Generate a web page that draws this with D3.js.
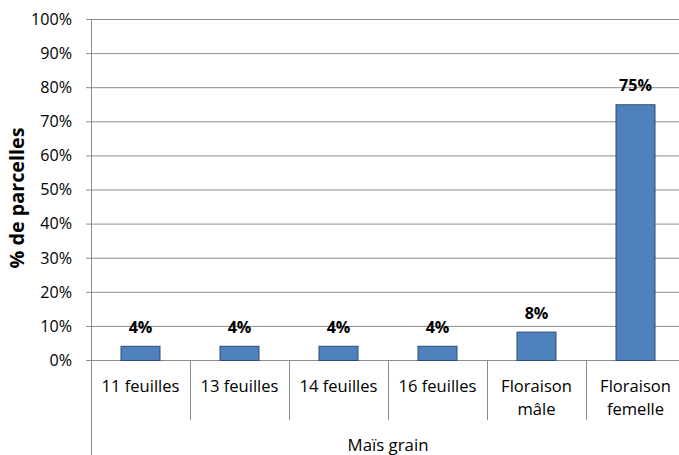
<!DOCTYPE html>
<html><head><meta charset="utf-8">
<script src="https://cdn.jsdelivr.net/npm/d3@7"></script>
<style>body{margin:0;background:#fff}svg{display:block}text{font-family:"Open Sans","Liberation Sans",Arial,sans-serif}</style>
</head><body><svg id="c" width="679" height="455"></svg>
<script>
const categories = [["11 feuilles"],["13 feuilles"],["14 feuilles"],["16 feuilles"],["Floraison","mâle"],["Floraison","femelle"]];
const values = [4.17, 4.17, 4.17, 4.17, 8.33, 75];
const valueLabels = ["4%","4%","4%","4%","8%","75%"];
const yTicks = [0,10,20,30,40,50,60,70,80,90,100];
const groupLabel = "Maïs grain";
const yTitle = "% de parcelles";

const svg = d3.select("#c");
const x0 = 91, x1 = 685, yTop = 19, yBot = 360;
const x = d3.scaleBand().domain(d3.range(categories.length)).range([x0, x1]).paddingInner(0).paddingOuter(0);
const y = d3.scaleLinear().domain([0,100]).range([yBot, yTop]);
const grid = "#8c8c8c";

// font size fitting to match reference text widths
function fit(sample, weight, target){
  const t = svg.append("text").attr("font-size",100).attr("font-weight",weight).text(sample);
  const w = t.node().getComputedTextLength(); t.remove();
  return 100*target/w;
}
const fsTick = fit("100%", "normal", 41);
const fsCat = fit("11 feuilles", "normal", 78);
const fsGroup = fit(groupLabel, "normal", 81);
const fsTitle = fit(yTitle, "bold", 141);
const fsVal = fit("75%", "bold", 33);

// gridlines
svg.append("g").selectAll("line").data(yTicks).join("line")
  .attr("x1", x0-5).attr("x2", x1).attr("y1", d=>y(d)+0.5).attr("y2", d=>y(d)+0.5)
  .attr("stroke", grid).attr("stroke-width", 1);
// y tick labels
svg.append("g").selectAll("text").data(yTicks).join("text")
  .attr("x", 72).attr("y", d=>y(d)).attr("dy","0.36em").attr("text-anchor","end")
  .attr("font-size", fsTick).attr("fill","#000").text(d=>d+"%");
// y axis line
svg.append("line").attr("x1", x0+0.5).attr("x2", x0+0.5).attr("y1", yTop).attr("y2", 455)
  .attr("stroke", grid);
// bars
const bw = 40;
svg.append("g").selectAll("rect").data(values).join("rect")
  .attr("x", (d,i)=>x(i)+x.bandwidth()/2-bw/2+0.5).attr("width", bw-1)
  .attr("y", d=>y(d)+0.5).attr("height", d=>yBot-y(d))
  .attr("fill","#4f81bd").attr("stroke","#2c4d75").attr("stroke-width",1);
// value labels
svg.append("g").selectAll("text").data(values).join("text")
  .attr("x", (d,i)=>x(i)+x.bandwidth()/2).attr("y", d=>y(d)-13)
  .attr("text-anchor","middle").attr("font-size",fsVal).attr("font-weight","bold").attr("fill","#000")
  .text((d,i)=>valueLabels[i]);
// category separators
svg.append("g").selectAll("line").data(d3.range(1, categories.length+1)).join("line")
  .attr("x1", i=>x0 + i*x.bandwidth()+0.5).attr("x2", i=>x0 + i*x.bandwidth()+0.5)
  .attr("y1", yBot).attr("y2", 420).attr("stroke", grid);
// category labels
categories.forEach((lines,i)=>{
  const cx = x(i)+x.bandwidth()/2;
  lines.forEach((t,j)=>{
    svg.append("text").attr("x", cx).attr("y", 392 + j*22.5).attr("text-anchor","middle")
      .attr("font-size",fsCat).attr("fill","#000").text(t);
  });
});
// group label
svg.append("text").attr("x", (x0+x1)/2).attr("y", 451).attr("text-anchor","middle")
  .attr("font-size",fsGroup).attr("fill","#000").text(groupLabel);
// y title
svg.append("text").attr("transform", `translate(24,198) rotate(-90)`)
  .attr("text-anchor","middle").attr("font-size",fsTitle).attr("font-weight","bold").attr("fill","#000").text(yTitle);
</script></body></html>
